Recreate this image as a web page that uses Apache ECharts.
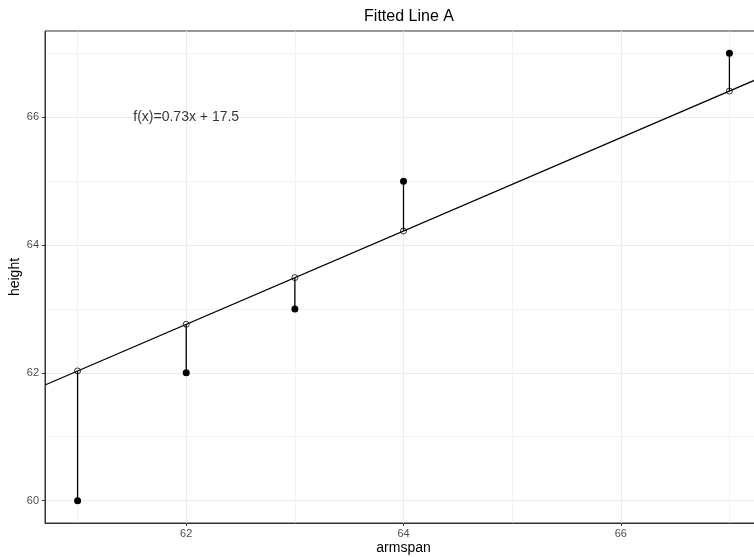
<!DOCTYPE html>
<html>
<head>
<meta charset="utf-8">
<script src="https://cdn.jsdelivr.net/npm/echarts@6/dist/echarts.min.js"></script>
<style>
  html, body { margin: 0; padding: 0; background: #fff; }
  #chart { width: 754px; height: 557px; }
</style>
</head>
<body>
<div id="chart"></div>
<script>
// observed points
const armspan = [61, 62, 63, 64, 67]
const height = [60, 62, 63, 65, 67]
// fitted values at each armspan
const fitted = [62.03, 62.76, 63.49, 64.22, 66.41]
// fitted line end points (panel edges)
const lineX = [60.7, 67.3]
const lineY = [61.81, 66.63]

// tick labels / grid lines
const xMajor = [62, 64, 66]
const xMinor = [61, 63, 65, 67]
const yMajor = [60, 62, 64, 66]
const yMinor = [61, 63, 65, 67]

const fitLabel = 'f(x)=0.73x + 17.5'
const labelPos = [62, 66]

const chart = echarts.init(document.getElementById('chart'))

const FONT = 'Liberation Sans, Arial, sans-serif'
const GRID_COLOR = '#ebebeb'

// 残差竖线
const residualSeries = armspan.map((x, i) => ({
  type: 'line',
  data: [[x, height[i]], [x, fitted[i]]],
  symbol: 'none',
  lineStyle: { color: '#000', width: 1.3 },
  silent: true,
  z: 3
}))

const option = {
  animation: false,
  backgroundColor: '#fff',
  title: {
    text: 'Fitted Line A',
    left: 404,
    textAlign: 'center',
    top: 4,
    textStyle: { color: '#000', fontSize: 16, fontWeight: 'normal', fontFamily: FONT }
  },
  grid: {
    left: 45,
    top: 31,
    bottom: 34,
    right: -8,
    outerBoundsMode: 'none',
    containLabel: false,
    show: true,
    borderColor: '#333',
    borderWidth: 1
  },
  xAxis: [
    {
      type: 'value',
      min: 60.7,
      max: 67.3,
      name: 'armspan',
      nameLocation: 'middle',
      nameGap: 18,
      nameMoveOverlap: false,
      nameTextStyle: { color: '#000', fontSize: 14, fontFamily: FONT },
      axisLine: { show: true, lineStyle: { color: '#333', width: 1 } },
      axisTick: { show: true, length: 3, customValues: xMajor, lineStyle: { color: '#333' } },
      axisLabel: { customValues: xMajor, color: '#4d4d4d', fontSize: 11, margin: 5, fontFamily: FONT },
      splitLine: { show: true, lineStyle: { color: GRID_COLOR, width: 1 } }
    },
    {
      type: 'value',
      min: 60.7,
      max: 67.3,
      axisLine: { show: false },
      axisTick: { show: false, customValues: xMinor },
      axisLabel: { show: false },
      splitLine: { show: true, lineStyle: { color: GRID_COLOR, width: 0.6 } }
    }
  ],
  yAxis: [
    {
      type: 'value',
      min: 59.65,
      max: 67.35,
      name: 'height',
      nameLocation: 'middle',
      nameGap: 23,
      nameMoveOverlap: false,
      nameTextStyle: { color: '#000', fontSize: 14, fontFamily: FONT },
      axisLine: { show: true, lineStyle: { color: '#333', width: 1 } },
      axisTick: { show: true, length: 3, customValues: yMajor, lineStyle: { color: '#333' } },
      axisLabel: { customValues: yMajor, color: '#4d4d4d', fontSize: 11, margin: 6, fontFamily: FONT },
      splitLine: { show: true, lineStyle: { color: GRID_COLOR, width: 1 } }
    },
    {
      type: 'value',
      min: 59.65,
      max: 67.35,
      axisLine: { show: false },
      axisTick: { show: false, customValues: yMinor },
      axisLabel: { show: false },
      splitLine: { show: true, lineStyle: { color: GRID_COLOR, width: 0.6 } }
    }
  ],
  series: [
    {
      type: 'line',
      data: lineX.map((x, i) => [x, lineY[i]]),
      symbol: 'none',
      lineStyle: { color: '#000', width: 1.3 },
      silent: true,
      z: 3
    },
    ...residualSeries,
    {
      type: 'scatter',
      data: armspan.map((x, i) => [x, height[i]]),
      symbol: 'circle',
      symbolSize: 7,
      itemStyle: { color: '#000', opacity: 1 },
      z: 5
    },
    {
      type: 'scatter',
      data: armspan.map((x, i) => [x, fitted[i]]),
      symbol: 'circle',
      symbolSize: 6,
      itemStyle: { color: 'rgba(0,0,0,0)', borderColor: '#000', borderWidth: 0.8, opacity: 1 },
      z: 5
    },
    {
      type: 'scatter',
      data: [labelPos],
      symbolSize: 0,
      silent: true,
      label: {
        show: true,
        position: 'inside',
        formatter: fitLabel,
        color: '#000',
        fontSize: 14,
        fontFamily: FONT
      }
    }
  ]
}

chart.setOption(option)

window.addEventListener('resize', () => {
  chart.resize()
})
</script>
</body>
</html>
